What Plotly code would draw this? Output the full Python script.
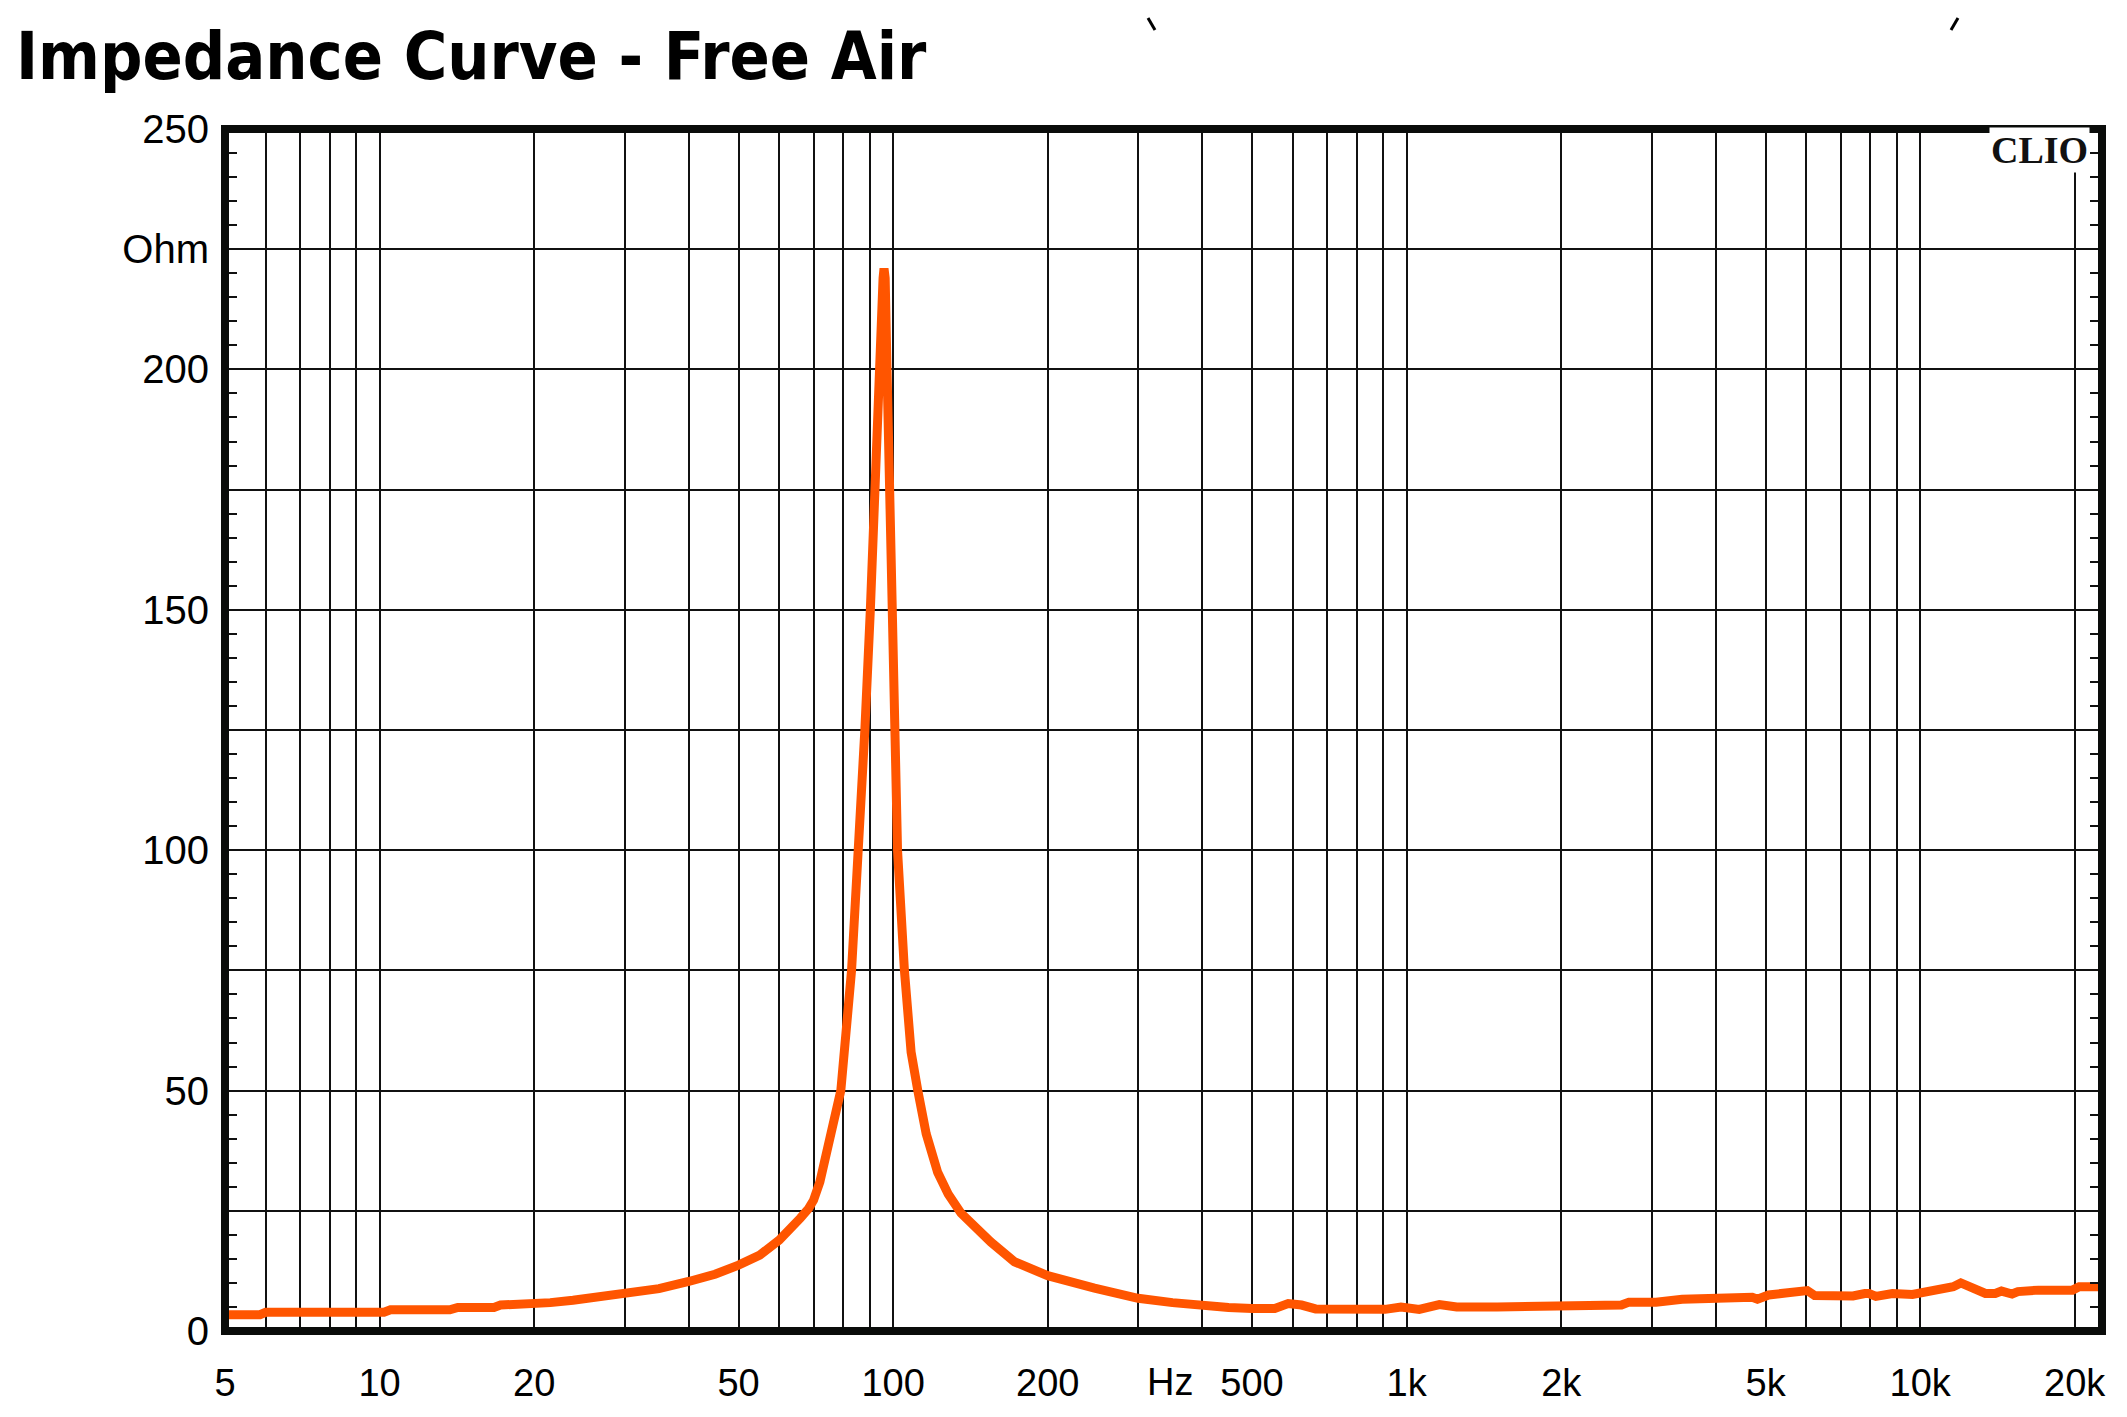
import numpy as np
import plotly.graph_objects as go

# impedance readings (Hz, Ohm)
freq_hz = [5, 5.85, 6.0, 7, 8, 9, 10.2, 10.5, 12, 13.7, 14.2, 16.7, 17.2, 20, 21.5,
           23.8, 26.8, 30, 35, 40, 45, 50, 55, 60, 63, 66, 68.5, 70, 72, 73.3, 75, 76.7,
           79.1, 83.0, 85.9, 88.1, 90.3, 91.9, 93.7, 95.0, 95.6, 96.0, 96.5, 97.3, 98.3,
           99.3, 100.2, 102.0, 105.2, 108.4, 111.7, 116, 122.1, 128, 135.6, 140,
           144, 155, 172.3, 200, 246.7, 300, 350, 400, 450, 500, 553.6, 588, 624,
           665, 780, 908, 975, 1058, 1158, 1252, 1500, 1880, 1940, 2620, 2710, 3060,
           3440, 4370, 4710, 4820, 5070, 5470, 5770, 6030, 6230, 7400, 7800, 7950,
           8200, 8830, 9660, 10100, 10900, 11600, 12000, 12700, 13400, 14000,
           14400, 15100, 15500, 17000, 19800, 20400, 22600]
impedance_ohm = [3.4, 3.4, 3.9, 3.9, 3.9, 3.9, 3.9, 4.4, 4.4, 4.4, 4.9, 4.9, 5.4, 5.6, 5.9,
                 6.4, 7.1, 7.6, 8.8, 10.3, 11.8, 13.7, 15.8, 18.9, 21, 23.5, 25.5, 27.2, 31, 34.9, 39, 43.2,
                 50, 75, 100, 125, 150, 175, 200, 214, 219, 221, 219, 200, 175,
                 150, 125, 100, 75, 58, 50, 41, 33, 28.5, 24.5, 23,
                 21.7, 18.5, 14.4, 11.5, 8.9, 6.8, 5.9, 5.2, 4.9, 4.7, 4.7, 5.7, 5.4,
                 4.6, 4.5, 4.5, 5.0, 4.5, 5.5, 5.0, 5.0, 5.0, 5.4, 5.4, 6.0, 6.0,
                 6.6, 7.1, 7.0, 6.6, 7.5, 7.9, 8.4, 8.4, 7.4, 7.3, 7.8, 7.8,
                 7.2, 7.8, 7.6, 7.9, 8.5, 9.2, 10.0, 8.9, 7.8, 7.8,
                 8.3, 7.7, 8.2, 8.5, 8.5, 9.2, 9.2]

x_grid = [5, 6, 7, 8, 9, 10, 20, 30, 40, 50, 60, 70, 80, 90, 100, 200, 300, 400, 500,
          600, 700, 800, 900, 1000, 2000, 3000, 4000, 5000, 6000, 7000, 8000, 9000,
          10000, 20000]
x_labels = {5: '5', 10: '10', 20: '20', 50: '50', 100: '100', 200: '200', 500: '500',
            1000: '1k', 2000: '2k', 5000: '5k', 10000: '10k', 20000: '20k'}
y_grid = [0, 25, 50, 75, 100, 125, 150, 175, 200, 225, 250]
y_labels = {0: '0', 50: '50', 100: '100', 150: '150', 200: '200', 225: 'Ohm', 250: '250'}

# page body has an 8px margin, so the figure is drawn 8px smaller and shifted
OFF = 8
W, H = 2127 - OFF, 1417 - OFF
L, R, T, B = 225, 2102, 129, 1331   # plot edges in page pixels


def px(X, Y):
    return (X - L) / (R - L), (B - Y) / (B - T)


x_font = dict(family='Liberation Sans, Arial, sans-serif', size=38, color='black')
y_font = dict(family='Liberation Sans, Arial, sans-serif', size=40, color='black')

fig = go.Figure()
fig.add_trace(go.Scatter(x=freq_hz, y=impedance_ohm, mode='lines',
                         line=dict(color='#ff5500', width=9), hoverinfo='skip'))

fig.update_xaxes(type='log', range=[np.log10(5), np.log10(22600)],
                 tickvals=x_grid, ticktext=[x_labels.get(v, '') for v in x_grid],
                 showgrid=True, gridcolor='#111', gridwidth=2, ticks='',
                 showline=False, zeroline=False, tickfont=x_font,
                 ticklabelstandoff=26)
fig.update_yaxes(range=[0, 250], tickvals=y_grid,
                 ticktext=[y_labels.get(v, '') for v in y_grid],
                 showgrid=True, gridcolor='#111', gridwidth=2,
                 ticks='inside', ticklen=12, tickwidth=2, tickcolor='#111', mirror='ticks',
                 minor=dict(ticks='inside', dtick=5, tick0=0, ticklen=12, tickwidth=2,
                            tickcolor='#111', showgrid=False),
                 showline=False, zeroline=False, tickfont=y_font,
                 ticklabelstandoff=15)

# frame
fig.add_shape(type='rect', xref='paper', yref='paper', x0=0, x1=1, y0=0, y1=1,
              line=dict(color='#0a0c0a', width=8), layer='above')

# stray marks at the top
for (x0, y0, x1, y1) in [(1148, 18, 1155, 30), (1958, 18, 1951, 30)]:
    a, b = px(x0, y0)
    c, d = px(x1, y1)
    fig.add_shape(type='line', xref='paper', yref='paper', x0=a, y0=b, x1=c, y1=d,
                  line=dict(color='black', width=3))

tx, ty = px(14, 56)
fig.add_annotation(text='<b>Impedance Curve - Free Air</b>', xref='paper', yref='paper',
                   x=tx, y=ty, xanchor='left', yanchor='middle', showarrow=False,
                   font=dict(family='DejaVu Sans Condensed, sans-serif',
                             size=66, color='black'))

cx, cy = px(2090, 150)
fig.add_annotation(text='<b>CLIO</b>', xref='paper', yref='paper', x=cx, y=cy,
                   xanchor='right', yanchor='middle', showarrow=False, bgcolor='white',
                   borderpad=1,
                   font=dict(family='Liberation Serif, serif', size=38, color='#111'))

_, hy = px(0, 1382)
fig.add_annotation(text='Hz', xref='x', yref='paper', x=np.log10(346), y=hy,
                   xanchor='center', yanchor='middle', showarrow=False, font=x_font)

fig.update_layout(width=W, height=H,
                  margin=dict(l=L - OFF, r=W - (R - OFF), t=T - OFF, b=H - (B - OFF)),
                  paper_bgcolor='white', plot_bgcolor='white', showlegend=False)

fig.write_html('out.html')
